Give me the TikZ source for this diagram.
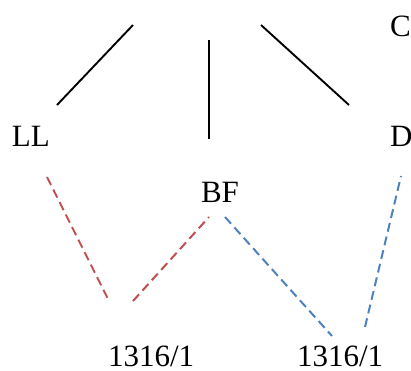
\documentclass[tikz,border=0pt]{standalone}
\usepackage{fontspec}
\setmainfont{Liberation Serif}
\usepackage{xcolor}
\definecolor{cInk}{HTML}{000000}
\definecolor{cRed}{HTML}{C0504D}
\definecolor{cBlue}{HTML}{4F81BD}
\usepackage{tikz}
\usetikzlibrary{positioning}
\tikzset{
  node-label/.style={anchor=base west,inner sep=0pt,outer sep=0pt,
    font=\fontsize{31}{37}\selectfont},
  edge-tree/.style={draw=cInk,line width=1.9pt},
  edge-red/.style={draw=cRed,line width=2pt,dash pattern=on 9pt off 5pt},
  edge-blue/.style={draw=cBlue,line width=2pt,dash pattern=on 9pt off 5pt},
}

\begin{document}
\begin{tikzpicture}[x=1pt,y=-1pt]
  \useasboundingbox (0,0) rectangle (411,370);
  % labels
  \node[node-label] (c)   at (390,36)  {C};
  \node[node-label] (ll)  at (12,146)  {LL};
  \node[node-label] (d)   at (390,146) {D};
  \node[node-label] (bf)  at (201,202) {BF};
  \node[node-label] (n1)  at (108,366) {1316/1};
  \node[node-label] (n2)  at (297,366) {1316/1};
  % end points of the tree edges
  \coordinate (t-l) at (133,25);
  \coordinate (t-m) at (209,40);
  \coordinate (t-r) at (261,25);
  \coordinate (ll-t) at (57,105);
  \coordinate (bf-t) at (209,139);
  \coordinate (d-t)  at (349,105);
  % end points of the dashed links
  \coordinate (ll-b) at (47,177);
  \coordinate (n1-l) at (109,301);
  \coordinate (n1-r) at (133,301);
  \coordinate (bf-l) at (209,217);
  \coordinate (bf-r) at (225,217);
  \coordinate (n2-l) at (332,336);
  \coordinate (n2-r) at (365,327);
  \coordinate (d-b)  at (401,176);
  \draw[edge-tree] (t-l) -- (ll-t);
  \draw[edge-tree] (t-m) -- (bf-t);
  \draw[edge-tree] (t-r) -- (d-t);
  \draw[edge-red] (ll-b) -- (n1-l);
  \draw[edge-red] (n1-r) -- (bf-l);
  \draw[edge-blue] (bf-r) -- (n2-l);
  \draw[edge-blue] (n2-r) -- (d-b);
\end{tikzpicture}
\end{document}
